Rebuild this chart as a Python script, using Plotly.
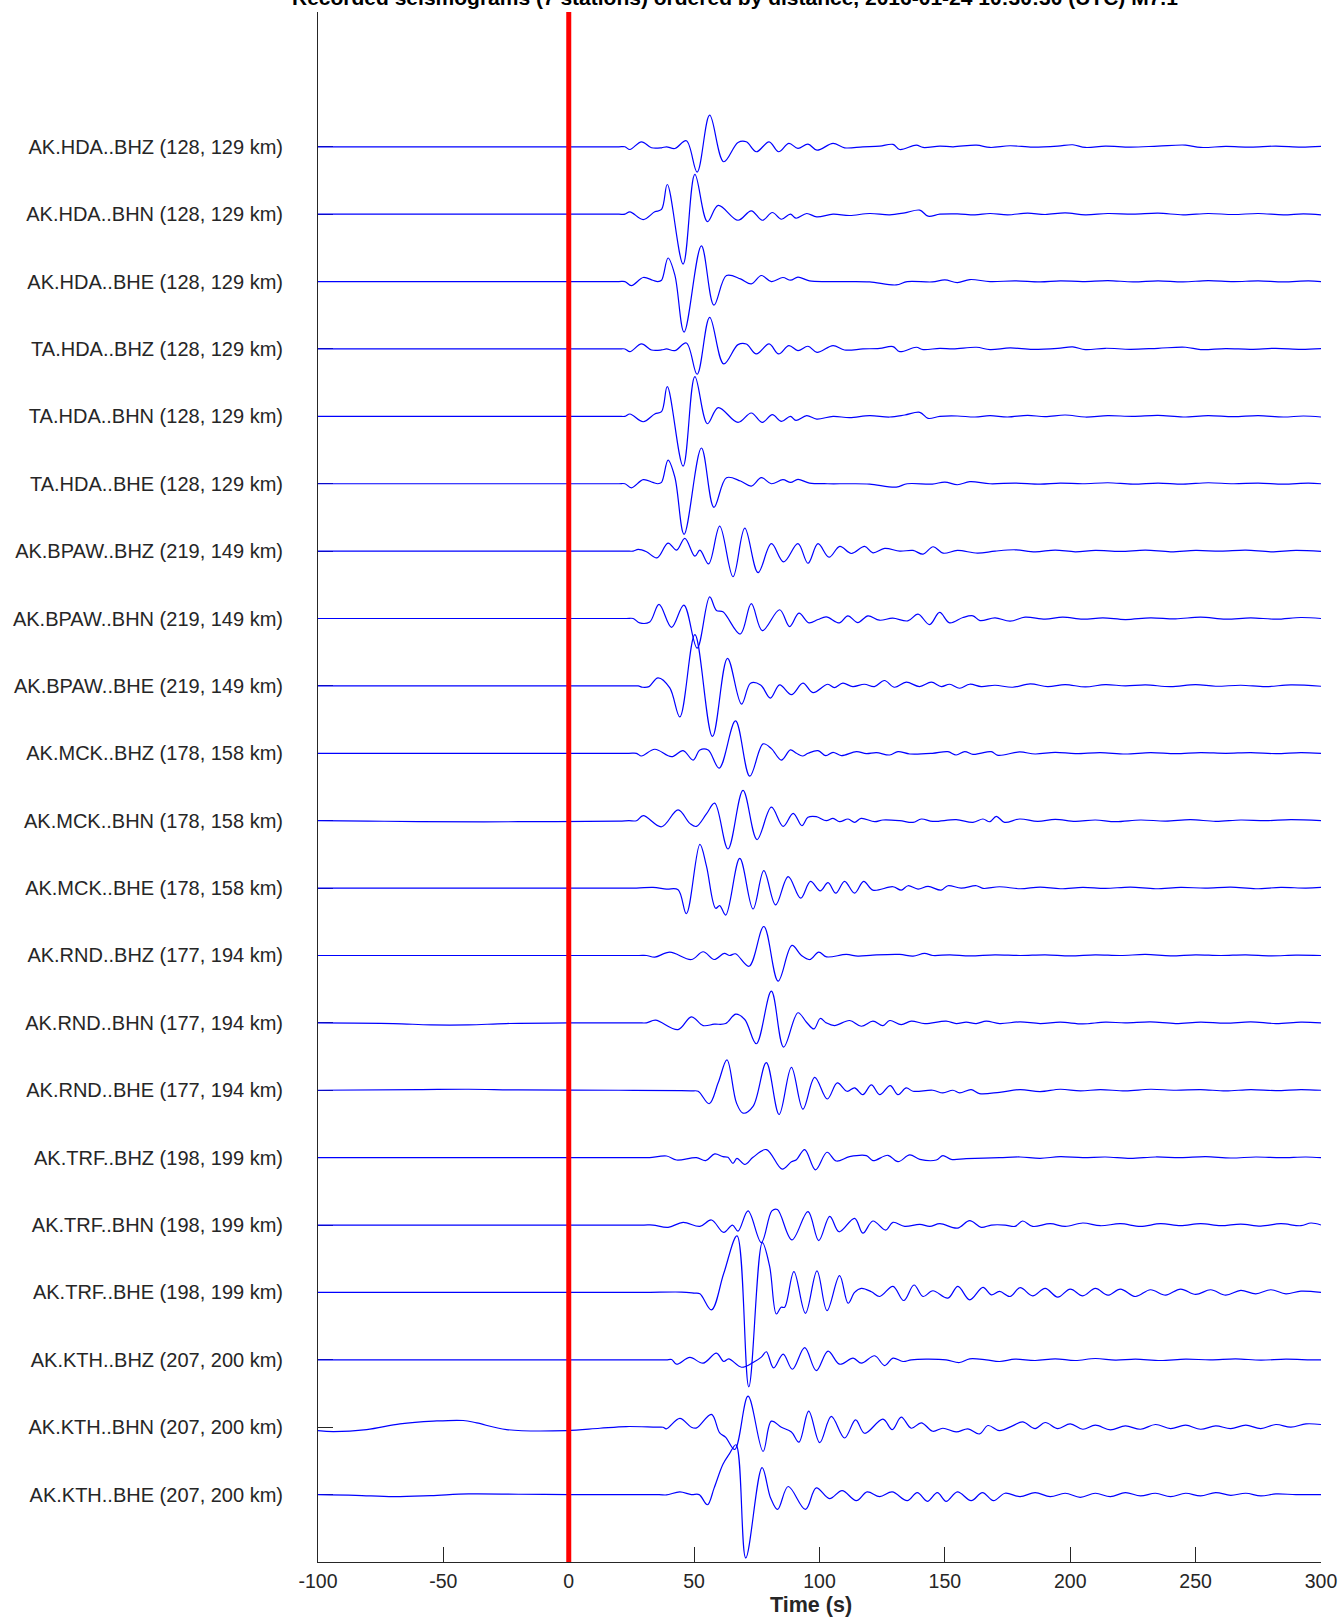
import plotly.graph_objects as go

# ---------------- data ----------------
channels = ["AK.HDA..BHZ", "AK.HDA..BHN", "AK.HDA..BHE",
            "TA.HDA..BHZ", "TA.HDA..BHN", "TA.HDA..BHE",
            "AK.BPAW..BHZ", "AK.BPAW..BHN", "AK.BPAW..BHE",
            "AK.MCK..BHZ", "AK.MCK..BHN", "AK.MCK..BHE",
            "AK.RND..BHZ", "AK.RND..BHN", "AK.RND..BHE",
            "AK.TRF..BHZ", "AK.TRF..BHN", "AK.TRF..BHE",
            "AK.KTH..BHZ", "AK.KTH..BHN", "AK.KTH..BHE"]
dist_1 = [128, 128, 128, 128, 128, 128, 219, 219, 219, 178, 178, 178,
          177, 177, 177, 198, 198, 198, 207, 207, 207]
dist_2 = [129, 129, 129, 129, 129, 129, 149, 149, 149, 158, 158, 158,
          194, 194, 194, 199, 199, 199, 200, 200, 200]
x_ticks = [-100, -50, 0, 50, 100, 150, 200, 250, 300]
title_text = "Recorded seismograms (7 stations) ordered by distance, 2016-01-24 10:30:30 (UTC) M7.1"
x_title = "Time (s)"

# waveform knots: (time s, normalized amplitude in trace-spacing units)
hda_bhz = [(-100, 0), (-60, 0), (-20, 0), (10, 0), (20, 0), (22.4, 0), (24.4, -0.04), (29.0, 0.074),
           (33.0, -0.015), (37.0, -0.015), (39.0, 0),
           (42.3, -0.025), (46.9, 0.089), (51.2, -0.375), (56.2, 0.469), (61.8, -0.222), (67.5, 0.064),
           (70.8, 0.074), (74.8, -0.074), (79.9, 0.074), (83.7, -0.074), (87.8, 0.05), (91.4, -0.025),
           (95.4, 0.04), (99.0, -0.05), (105.4, 0.05), (110.0, -0.015), (117.3, 0), (124, 0.01),
           (129.3, 0.035), (132, -0.04), (138.6, 0.025), (141.3, -0.01), (148, 0.01), (153.3, 0),
           (162.6, 0.025), (168, -0.01), (176, 0.015), (185, -0.005), (195, 0.01), (201, 0.03), (206, -0.01),
           (214, 0.01), (224, -0.005), (235, 0.01), (246, 0.025), (252, -0.01), (262, 0.005), (272, -0.005),
           (282, 0.01), (292, -0.005), (300, 0.005)]
hda_bhn = [(-100, 0), (-60, 0), (-20, 0), (10, 0), (20, 0), (22.4, 0), (24.4, 0.035), (29.7, -0.08),
           (34.3, 0.035), (37.0, 0.07), (39.3, 0.44),
           (45.6, -0.74), (50.3, 0.59), (55.3, -0.11), (59.6, 0.13), (67.5, -0.09), (72.8, 0.05),
           (77.2, -0.09), (81.2, 0.025), (84.8, -0.075), (88.4, 0.0), (90.6, -0.06), (94.9, 0.01),
           (98.9, -0.04), (105.4, 0.0), (112, -0.02), (120, 0.01), (128, -0.01), (134, 0.02), (140, 0.06),
           (143.3, -0.03), (148, 0.0), (155, 0.005), (162, -0.01), (168, 0.01), (175, -0.01), (183, 0.015),
           (190, -0.005), (198, 0.02), (206, -0.01), (215, 0.01), (225, 0.0), (235, 0.015), (245, -0.01),
           (255, 0.01), (265, -0.005), (275, 0.01), (285, -0.01), (293, 0.005), (300, -0.01)]
hda_bhe = [(-100, 0), (-60, 0), (-20, 0), (10, 0), (20, 0), (22.4, 0), (25.0, -0.06), (29.7, 0.06),
           (33.5, 0.02), (35.5, 0.0), (37.0, 0.02),
           (39.6, 0.35), (42.3, 0.1), (46.0, -0.75), (52.9, 0.53), (57.9, -0.35), (62.9, 0.09), (68.5, 0.04),
           (72.8, -0.035), (76.8, 0.09), (80.8, 0.0), (85.4, 0.06), (88.5, 0.02), (91.4, 0.065), (96, 0.01),
           (103.3, 0.0), (112, 0.0), (120, -0.005), (130.6, -0.05), (135, 0.0), (145, -0.005), (150, 0.025),
           (155, -0.015), (160, 0.03), (168, 0.0), (178, 0.01), (188, -0.005), (196, 0.01), (205, 0.0),
           (215, 0.015), (225, -0.005), (235, 0.01), (245, -0.005), (255, 0.015), (265, 0.0), (275, 0.01),
           (285, -0.005), (295, 0.01), (300, 0.0)]
ta_hda_bhz = hda_bhz
ta_hda_bhn = hda_bhn
ta_hda_bhe = hda_bhe
bpaw_bhz = [(-100, 0), (-60, 0), (-20, 0), (10, 0), (23, 0), (25.7, 0), (27.7, 0.025), (31, -0.01),
            (35.2, -0.1), (39.6, 0.12), (43.0, 0.015),
            (46.3, 0.19), (50.3, -0.075), (52.3, 0.015), (55.8, -0.19), (60.2, 0.37), (65.5, -0.38),
            (70.2, 0.34), (75.5, -0.32), (80.8, 0.11), (85.7, -0.16), (91.4, 0.11), (95.4, -0.18), (99.4, 0.11),
            (103.8, -0.09), (108.1, 0.07), (112.7, -0.035), (118.0, 0.07), (121.3, -0.025), (126, 0.04),
            (132, 0.0), (137.3, 0.01), (141.3, -0.045), (145.3, 0.065), (149.3, -0.03), (155, 0.01),
            (163, -0.03), (170, 0.0), (178, 0.02), (186, -0.01), (194, 0.015), (202, -0.01), (210, 0.01),
            (220, -0.005), (230, 0.015), (240, -0.01), (250, 0.01), (260, 0.0), (270, 0.015), (280, -0.01),
            (290, 0.01), (300, -0.005)]
bpaw_bhn = [(-100, 0), (-60, 0), (-20, 0), (10, 0), (23, 0), (25.7, 0), (28.3, -0.065), (32.3, -0.05),
            (36.0, 0.21), (41.0, -0.13), (45.9, 0.2),
            (51.2, -0.44), (56.2, 0.32), (58.9, 0.12), (61.5, 0.1), (68.4, -0.23), (72.8, 0.22), (77.2, -0.18),
            (84.1, 0.13), (88.1, -0.12), (91.8, 0.08), (95.8, -0.065), (99.4, -0.015), (102.7, 0.025),
            (108.0, -0.065), (111.3, 0.04), (115.3, -0.06), (119.3, 0.04), (123.9, -0.025), (129.2, 0.005),
            (135.2, -0.035), (139.3, 0.065), (143.9, -0.09), (147.9, 0.09), (151.9, -0.065), (157.2, 0.015),
            (161.2, 0.04), (164, -0.03), (170, 0.01), (176, -0.04), (182, 0.02), (190, -0.01), (197, 0.02),
            (205, -0.01), (213, 0.01), (222, -0.015), (232, 0.01), (242, -0.005), (252, 0.02), (262, -0.01),
            (272, 0.01), (282, -0.01), (292, 0.015), (300, 0.0)]
bpaw_bhe = [(-100, 0), (-60, 0), (-20, 0), (10, 0), (25, 0), (27.7, 0), (29.5, -0.02), (32, -0.01),
            (35.6, 0.12), (40.3, -0.03), (44.3, -0.46),
            (50.3, 0.76), (57.3, -0.75), (63.3, 0.41), (68.9, -0.27), (72.5, 0.04), (76.5, 0.015), (80.4, -0.18),
            (84.1, 0.015), (88.8, -0.13), (93.4, 0.04), (97.4, -0.1), (103.3, 0.025), (105.9, -0.025),
            (109.3, 0.04), (113.3, -0.01), (117.9, 0.025), (121.9, -0.01), (125.9, 0.08), (129.9, -0.02),
            (134.6, 0.055), (139.9, -0.01), (144.6, 0.055), (148.6, -0.01), (151.9, 0.025), (155.9, -0.035),
            (159.9, 0.025), (164.5, -0.01), (170, 0.01), (177, -0.02), (184, 0.03), (191, -0.01), (198, 0.02),
            (206, -0.015), (214, 0.02), (222, 0.0), (230, 0.015), (240, -0.01), (250, 0.02), (258, -0.005),
            (268, 0.01), (278, -0.01), (288, 0.015), (300, -0.005)]
mck_bhz = [(-100, 0), (-60, 0), (-20, 0), (10, 0), (24, 0), (27.0, 0), (29.0, -0.04), (34.3, 0.06),
           (41.0, -0.05), (45.6, 0.04), (49.6, -0.1),
           (52.3, 0.05), (55.6, 0.05), (60.0, -0.22), (66.5, 0.48), (72.2, -0.34), (77.5, 0.14), (80.8, 0.07),
           (84.8, -0.1), (88.4, 0.05), (90.8, 0.0), (93.2, -0.04), (95.4, 0.0), (99.4, 0.04), (102.5, -0.035),
           (105.4, 0.015), (108.7, -0.035), (114.7, 0.025), (118.7, -0.005), (122.7, 0.01), (128, -0.025),
           (131.3, 0.025), (136, -0.01), (145, 0.0), (151.2, 0.025), (154.5, -0.025), (157.9, 0.025),
           (161.2, -0.015), (164, 0.0), (168.5, 0.025), (171.2, -0.03), (179.8, 0.02), (186, -0.01),
           (194, 0.015), (202, -0.005), (212, 0.01), (222, -0.01), (232, 0.01), (242, -0.005), (252, 0.01),
           (262, 0.0), (272, 0.01), (282, -0.005), (292, 0.01), (300, 0.0)]
mck_bhn = [(-100, 0), (-80, -0.005), (-60, -0.015), (-20, -0.015), (20, -0.005), (24, 0), (27.0, 0), (29.7, 0.075),
           (37.0, -0.09),
           (43.6, 0.16), (48.3, -0.04), (50.9, -0.085), (54.9, 0.1), (58.2, 0.26), (63.5, -0.42), (69.5, 0.45),
           (75.1, -0.28), (80.8, 0.2), (85.5, -0.085), (89.5, 0.11), (93.0, -0.075), (95.4, 0.05), (98.7, 0.06),
           (102.7, 0.0), (105.4, 0.035), (108, -0.015), (111.4, 0.025), (114, -0.025), (116.6, 0.035),
           (122, -0.015), (125.3, 0.01), (132, 0.0), (137.3, -0.025), (140.6, 0.025), (145.2, -0.01),
           (154.5, 0.015), (161.2, -0.025), (165.2, 0.025), (167.9, -0.015), (170.5, 0.065), (173.8, -0.025),
           (179.8, 0.025), (187, -0.01), (194, 0.02), (202, -0.01), (210, 0.01), (218, -0.015), (228, 0.01),
           (238, -0.005), (248, 0.015), (258, -0.01), (268, 0.01), (278, 0.0), (288, 0.015), (300, 0.0)]
mck_bhe = [(-100, 0), (-60, 0), (-20, 0), (10, 0), (27, 0), (33.6, 0.01), (39.0, -0.015), (43.6, -0.025),
           (46.9, -0.38), (52.3, 0.65),
           (54.9, 0.33), (58.6, -0.3), (60.2, -0.26), (62.6, -0.4), (68.2, 0.44), (73.5, -0.31), (77.8, 0.26),
           (82.5, -0.25), (87.5, 0.17), (92.5, -0.15), (96.4, 0.1), (100.3, -0.04), (103.4, 0.08),
           (106.5, -0.075), (110.0, 0.1), (114.0, -0.075), (117.6, 0.1), (121.3, -0.03), (129.3, 0.02),
           (132.6, -0.03), (135.3, 0.035), (139.3, -0.015), (143.3, 0.025), (148.5, -0.03), (151.2, 0.035),
           (156.5, 0.0), (162.6, 0.035), (165.2, -0.005), (171.8, 0.02), (180, -0.01), (188, 0.015),
           (196, -0.01), (205, 0.01), (214, -0.005), (224, 0.015), (234, -0.01), (244, 0.01), (254, 0.0),
           (264, 0.015), (274, -0.01), (284, 0.01), (294, 0.0), (300, 0.01)]
rnd_bhz = [(-100, 0), (-60, 0), (-20, 0), (10, 0), (28, 0), (31, 0), (34.3, -0.025), (40.3, 0.05),
           (48.9, -0.06), (53.6, 0.055), (58.0, -0.06),
           (62.0, 0.03), (64.2, 0.0), (66.5, 0.025), (71.9, -0.16), (77.8, 0.43), (83.5, -0.38), (89.0, 0.15),
           (92.8, 0.0), (96.1, -0.06), (99.7, 0.05), (102.8, -0.02), (110.7, 0.015), (115.3, -0.01),
           (121.3, 0.005), (132, 0.015), (137.3, -0.01), (141.9, 0.03), (145.2, 0.0), (152, 0.01),
           (160, -0.005), (170, 0.01), (180, 0.0), (190, 0.01), (200, -0.005), (210, 0.01), (220, 0.0),
           (230, 0.015), (240, -0.005), (250, 0.01), (260, 0.0), (270, 0.01), (280, -0.005), (290, 0.005),
           (300, 0.0)]
rnd_bhn = [(-100, 0), (-70, -0.01), (-55, -0.03), (-40, -0.03), (-25, -0.01), (0, 0), (20, 0), (28, 0), (31, 0),
           (34.6, 0.04),
           (43.6, -0.1), (48.9, 0.09), (53.6, -0.04), (58, -0.02), (62.6, -0.01), (66.6, 0.13), (70.2, 0.05),
           (74.8, -0.31), (80.8, 0.47), (85.7, -0.36), (91.4, 0.15), (94.8, 0.01), (97.8, -0.09), (100.3, 0.065),
           (102.7, 0.0), (106, -0.04), (112, 0.035), (116.7, -0.05), (121.3, 0.025), (125.3, -0.04),
           (128, 0.035), (132.6, -0.025), (136.6, 0.025), (142, -0.01), (150.5, 0.025), (154.5, -0.01),
           (158.5, 0.01), (162.5, -0.01), (166.5, 0.025), (171.8, -0.01), (180, 0.015), (188, -0.01),
           (196, 0.01), (205, -0.015), (214, 0.01), (222, 0.0), (232, 0.015), (242, -0.01), (252, 0.01),
           (262, -0.005), (272, 0.015), (282, -0.01), (292, 0.01), (300, 0.0)]
rnd_bhe = [(-100, 0), (-60, 0.01), (-40, 0.015), (-20, 0.005), (20, 0), (45, -0.005), (49, -0.01), (51.6, -0.015),
           (56.0, -0.2), (59.6, 0.11), (63.1, 0.45), (66.9, -0.19), (69.5, -0.34), (73.5, -0.24), (78.8, 0.41),
           (83.9, -0.36), (88.8, 0.34), (93.4, -0.28), (98.1, 0.19), (103.1, -0.13), (107.1, 0.11),
           (111, -0.015), (114.0, 0.035), (117.3, -0.065), (120.7, 0.08), (124, -0.065), (128.2, 0.07),
           (131.3, -0.065), (134.6, 0.035), (137.3, -0.015), (145.2, 0.0), (149.2, -0.04), (153.2, 0.0),
           (155.9, -0.04), (160.5, 0.01), (163.8, -0.05), (171.8, -0.03), (180, 0.01), (188, -0.02),
           (196, 0.015), (204, -0.01), (212, 0.01), (222, -0.01), (232, 0.015), (242, 0.0), (252, 0.01),
           (262, -0.01), (272, 0.01), (282, -0.005), (292, 0.01), (300, 0.0)]
trf_bhz = [(-100, 0), (-60, 0), (-20, 0), (10, 0), (29, 0), (32.3, 0), (39.0, 0.025), (43.0, -0.035),
           (50.9, 0.0), (54.6, -0.045), (58.2, 0.055),
           (61.5, 0.015), (63.5, 0.005), (65.5, -0.085), (67.1, -0.01), (70.2, -0.1), (73.5, 0.005),
           (78.8, 0.12), (85.1, -0.17), (88.8, -0.06), (90.8, -0.03), (94.1, 0.12), (98.4, -0.18), (103.0, 0.08),
           (106.7, -0.05), (112.0, 0.015), (118.7, 0.03), (121.3, -0.045), (127.3, 0.035), (131.3, -0.06),
           (136, 0.04), (140, -0.025), (146.6, -0.035), (149.2, 0.03), (152.5, -0.025), (158.5, -0.015),
           (171.8, 0.0), (180, 0.01), (188, -0.01), (196, 0.015), (205, 0.0), (214, 0.01), (224, -0.01),
           (234, 0.01), (244, 0.0), (254, 0.015), (264, -0.005), (274, 0.01), (284, 0.0), (294, 0.01),
           (300, 0.0)]
trf_bhn = [(-100, 0), (-60, 0), (-20, 0), (10, 0), (30, 0), (33.6, 0), (39.6, -0.035), (45.6, 0.04),
           (52.3, -0.02), (56.9, 0.075), (61.8, -0.11),
           (65.3, 0.0), (67.5, -0.09), (71.5, 0.21), (76.8, -0.26), (81.0, 0.21), (83.2, 0.23), (89.0, -0.22),
           (95.4, 0.2), (99.7, -0.23), (104.1, 0.13), (107.8, -0.1), (114.0, 0.1), (117.3, -0.12), (121.3, 0.06),
           (126.4, -0.075), (129.3, 0.04), (134, -0.02), (140, 0.01), (144, -0.02), (148, 0.02), (155, -0.045),
           (159.9, 0.065), (164.5, -0.035), (168.5, 0.0), (174, 0.0), (178, -0.02), (181, 0.06), (185, -0.02),
           (192, 0.02), (198, -0.02), (205, 0.03), (212, -0.01), (220, 0.02), (228, -0.02), (236, 0.02),
           (244, -0.01), (252, 0.02), (260, -0.01), (268, 0.015), (276, -0.015), (284, 0.02), (292, -0.01),
           (296, 0.03), (300, 0.0)]
trf_bhe = [(-100, 0), (-60, 0), (-20, 0), (10, 0), (30, 0.0), (45, 0.005), (50, -0.01), (52.3, -0.02),
           (56.9, -0.26), (61.8, 0.28), (67.1, 0.84),
           (71.8, -1.40), (77.2, 0.74), (80.1, 0.39), (82.8, -0.32), (84.7, -0.22), (86.1, -0.22), (89.8, 0.31),
           (94.4, -0.31), (99.0, 0.32), (103.0, -0.27), (108.0, 0.25), (111.4, -0.16), (114, 0.0), (116.7, 0.06),
           (120.7, 0.01), (124, -0.06), (129.3, 0.09), (133.6, -0.12), (137.7, 0.11), (141.3, -0.06),
           (145.2, 0.025), (151.2, -0.085), (155.2, 0.09), (159.9, -0.11), (165.2, 0.075), (168.5, -0.035),
           (171.8, 0.015), (176, -0.06), (180, 0.07), (185, -0.05), (190, 0.06), (195, -0.07), (200, 0.05),
           (205, -0.05), (210, 0.06), (215, -0.04), (220, 0.05), (226, -0.06), (232, 0.04), (238, -0.04),
           (244, 0.05), (250, -0.03), (256, 0.04), (262, -0.04), (268, 0.03), (274, -0.02), (280, 0.04),
           (286, -0.02), (292, 0.02), (300, 0.0)]
kth_bhz = [(-100, 0), (-60, 0), (-20, 0), (10, 0), (36, 0), (39.0, 0), (41.0, 0.005), (43.0, -0.065),
           (48.3, 0.035), (53.6, -0.05), (58.9, 0.1),
           (61.8, -0.025), (63.8, 0.015), (68.9, -0.11), (73.5, -0.04), (76.8, 0.04), (78.8, 0.12),
           (81.7, -0.12), (85.5, 0.085), (89.2, -0.14), (94.1, 0.18), (98.7, -0.16), (103.4, 0.13),
           (108.0, -0.065), (113.4, 0.025), (116.7, -0.05), (122.0, 0.06), (126, -0.085), (129.3, 0.025),
           (133.3, -0.025), (136.6, 0.0), (142.5, 0.01), (150.5, 0.0), (155.8, -0.04), (159.9, 0.015),
           (166.5, 0.0), (171.8, -0.025), (178, 0.01), (186, -0.01), (194, 0.015), (202, -0.01), (210, 0.02),
           (218, -0.005), (226, 0.01), (236, -0.01), (246, 0.01), (256, 0.0), (266, 0.015), (276, -0.005),
           (286, 0.01), (296, 0.0), (300, 0.0)]
kth_bhn = [(-100, -0.05), (-93.9, -0.064), (-80.6, -0.035), (-67.3, 0.05), (-54, 0.09), (-42.1, 0.1),
           (-36.7, 0.064), (-24.8, -0.035), (-0.9, -0.05), (12.4, -0.015), (23, 0.01), (35, 0.0), (37.6, 0.0),
           (38.9, -0.025), (44.3, 0.13), (48.9, 0.0), (51, -0.01), (56.9, 0.19), (60.2, -0.085), (62.6, -0.15),
           (66.2, -0.33), (71.5, 0.46), (77.5, -0.36), (80.8, 0.09), (84.8, 0.0), (88.8, -0.07), (91.8, -0.22),
           (95.7, 0.24), (100.1, -0.23), (104.7, 0.16), (110, -0.16), (114.4, 0.11), (118, -0.09),
           (125.3, 0.12), (129, -0.035), (132.6, 0.15), (136.6, -0.015), (140.6, 0.065), (145.2, -0.06),
           (149.2, -0.015), (154.5, -0.07), (159.2, -0.025), (163.8, -0.1), (167.2, 0.025), (171.8, -0.05),
           (177, 0.02), (181, 0.08), (186, -0.02), (190, 0.07), (195, -0.02), (200, 0.05), (205, -0.03),
           (210, 0.03), (216, -0.04), (222, 0.02), (228, -0.03), (234, 0.04), (240, -0.02), (246, 0.03),
           (252, -0.03), (258, 0.02), (264, -0.02), (270, 0.03), (276, -0.02), (282, 0.04), (288, 0.0),
           (294, 0.05), (300, 0.04)]
kth_bhe = [(-100, 0), (-85, -0.01), (-70, -0.03), (-55, -0.015), (-40, 0.01), (-20, 0.005), (0, 0), (20, 0),
           (36, 0.0),
           (39, -0.005), (44.3, 0.04), (48.9, 0.0), (52, 0.0), (55.3, -0.15), (58, 0.1), (61.5, 0.45),
           (64, 0.6), (66.7, 0.74), (70.6, -0.94), (77.1, 0.4), (80.5, -0.05), (83.3, -0.22), (87.5, 0.12),
           (94.4, -0.22), (98.7, 0.1), (104, -0.06), (109, 0.06), (114.7, -0.09), (119, 0.04), (124, -0.03),
           (129, 0.04), (135, -0.09), (139, 0.03), (143, -0.1), (147, 0.03), (150.5, -0.1), (155, 0.04),
           (160.5, -0.09), (165, 0.03), (169.4, -0.09), (174, 0.02), (180, -0.03), (186, 0.03), (192, -0.03),
           (198, 0.02), (204, -0.04), (210, 0.02), (216, -0.03), (222, 0.03), (228, -0.02), (234, 0.02),
           (240, -0.03), (246, 0.02), (252, -0.02), (258, 0.03), (264, -0.01), (270, 0.02), (276, -0.02),
           (282, 0.01), (290, 0.0), (300, 0.0)]

waveforms = [hda_bhz, hda_bhn, hda_bhe, ta_hda_bhz, ta_hda_bhn, ta_hda_bhe,
             bpaw_bhz, bpaw_bhn, bpaw_bhe, mck_bhz, mck_bhn, mck_bhe,
             rnd_bhz, rnd_bhn, rnd_bhe, trf_bhz, trf_bhn, trf_bhe,
             kth_bhz, kth_bhn, kth_bhe]

# ---------------- figure ----------------
fig = go.Figure()
labels = []
offsets = []
for i, (ch, w) in enumerate(zip(channels, waveforms)):
    off = -i
    offsets.append(off)
    labels.append(f"{ch} ({dist_1[i]}, {dist_2[i]} km)")
    fig.add_trace(go.Scatter(
        x=[p[0] for p in w], y=[off + p[1] for p in w], mode="lines",
        line=dict(color="#0000ff", width=1.2, shape="spline", smoothing=1.0),
        showlegend=False, hoverinfo="skip"))

axis_color = "#262626"
fig.update_layout(
    width=1338, height=1619,
    margin=dict(l=318, r=17, t=12, b=57, pad=0),
    paper_bgcolor="white", plot_bgcolor="white",
    font=dict(family="Liberation Sans, Arial, sans-serif", color=axis_color),
    xaxis=dict(range=[-100, 300], tickvals=x_ticks, ticktext=[str(v) for v in x_ticks],
               ticks="inside", ticklen=15, tickwidth=1, tickcolor=axis_color, automargin=False,
               showline=True, linecolor=axis_color, linewidth=1, showgrid=False, zeroline=False,
               tickfont=dict(size=19.5, color=axis_color), layer="below traces", ticklabelstandoff=2),
    yaxis=dict(range=[-21, 2], tickvals=offsets, ticktext=labels, automargin=False,
               ticks="inside", ticklen=15, tickwidth=1, tickcolor=axis_color,
               showline=True, linecolor=axis_color, linewidth=1, showgrid=False, zeroline=False,
               tickfont=dict(size=20, color=axis_color), layer="below traces", ticklabelstandoff=30),
    shapes=[dict(type="line", xref="x", yref="paper", x0=0, x1=0, y0=0, y1=1,
                 line=dict(color="#ff0000", width=5), layer="above")],
    annotations=[
        dict(text="<b>" + title_text + "</b>", xref="paper", yref="paper", x=0.416, y=1.0,
             xanchor="center", yanchor="middle", yshift=15, showarrow=False,
             font=dict(size=21, color="black")),
        dict(text="<b>" + x_title + "</b>", xref="paper", yref="paper", x=0.492, y=0.0,
             xanchor="center", yanchor="middle", yshift=-43, showarrow=False,
             font=dict(size=21.5, color=axis_color)),
    ],
)

fig.write_html("out.html")
